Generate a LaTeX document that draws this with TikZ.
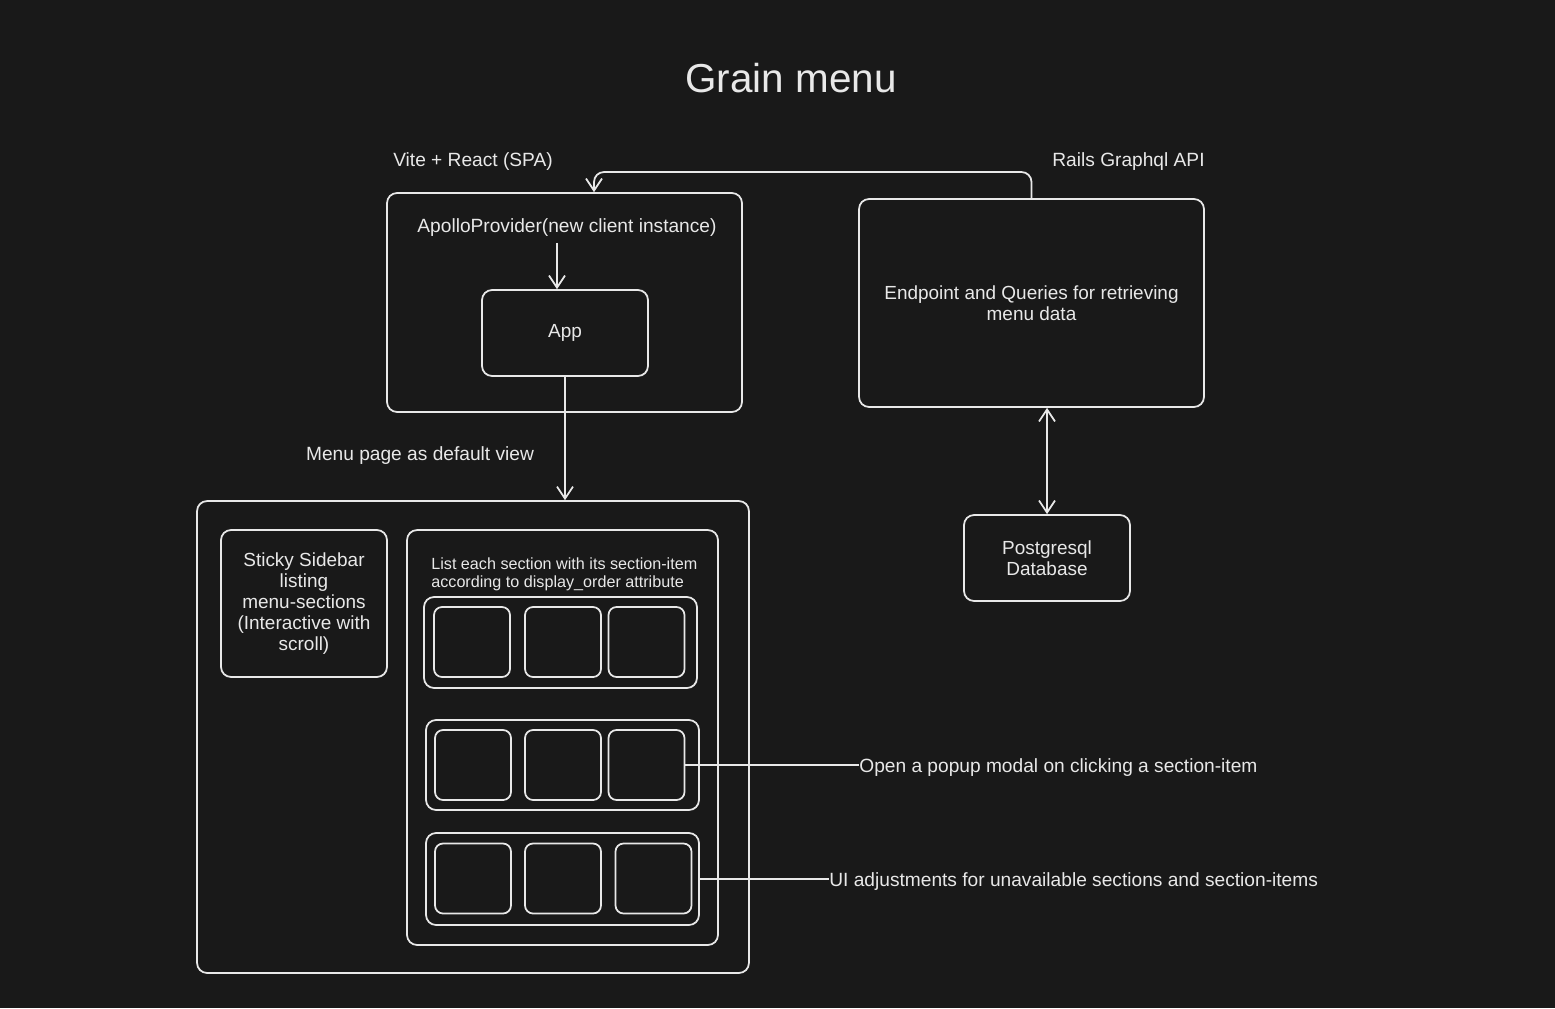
\documentclass[tikz,border=0pt]{standalone}
\usepackage{fontspec}
\setmainfont{Liberation Sans}
\usetikzlibrary{arrows.meta,positioning}
\definecolor{bgdark}{HTML}{191919}
\definecolor{chalk}{HTML}{E8E8E8}
\begin{document}
\begin{tikzpicture}[x=0.02cm,y=-0.02cm]
	% Styles for the nodes
	\tikzstyle{box} = [rectangle, rounded corners=0.2cm, inner sep=0pt, draw=chalk, line width=1pt, text=chalk, align=center, font=\fontsize{10.8}{11.9}\selectfont]
	\tikzstyle{item} = [box, rounded corners=0.16cm, minimum width=1.52cm, minimum height=1.4cm]
	\tikzstyle{row} = [box, minimum width=5.46cm, minimum height=1.82cm]
	\tikzstyle{heading} = [text=chalk, inner sep=0pt, font=\fontsize{23}{27}\selectfont]
	\tikzstyle{note} = [text=chalk, inner sep=0pt, yshift=-1.5pt, font=\fontsize{10.9}{11.9}\selectfont]
	\tikzstyle{arrow} = [draw=chalk, line width=1pt, -{Straight Barb[length=2.4mm,width=3.2mm]}]
	\tikzstyle{dblarrow} = [draw=chalk, line width=1pt, {Straight Barb[length=2.4mm,width=3.2mm]}-{Straight Barb[length=2.4mm,width=3.2mm]}]
	\tikzstyle{link} = [draw=chalk, line width=1pt]
	% Background
	\fill[bgdark] (0,0) rectangle (1555,1008);
	% Nodes
	\node (title) [heading] at (791,78) {Grain menu};
	\node (vite) [note] at (473,159) {Vite + React (SPA)};
	\node (rails) [note] at (1128.5,159) {Rails Graphql API};
	\node (apollo) [box, minimum width=7.1cm, minimum height=4.38cm] at (564.5,302.5) {};
	\node (apollotxt) [note] at (567,225) {ApolloProvider(new client instance)};
	\node (app) [box, minimum width=3.32cm, minimum height=1.72cm] at (565,333) {App};
	\node (endpoint) [box, minimum width=6.9cm, minimum height=4.16cm] at (1031.5,303) {Endpoint and Queries for retrieving\\menu data};
	\node (postgres) [box, minimum width=3.32cm, minimum height=1.72cm] at (1047,558) {Postgresql\\Database};
	\node (menupage) [note] at (420,453) {Menu page as default view};
	\node (main) [box, minimum width=11.04cm, minimum height=9.44cm] at (473,737) {};
	\node (sidebar) [box, minimum width=3.32cm, minimum height=2.94cm] at (304,603.5) {Sticky Sidebar\\listing\\menu-sections\\(Interactive with\\scroll)};
	\node (list) [box, minimum width=6.22cm, minimum height=8.3cm] at (562.5,737.5) {};
	\node (listtxt) [note, anchor=west, align=left, font=\fontsize{9.2}{10.2}\selectfont] at (431,572) {List each section with its section-item\\according to display\_order attribute};
	\node (row1) [row] at (560.5,642.5) {};
	\node (row2) [row, minimum height=1.8cm] at (562.5,765) {};
	\node (row3) [row, minimum height=1.84cm] at (562.5,879) {};
	\foreach \r/\y/\xa/\xc in {1/642/472/646.5, 2/765/473/646.5, 3/878.5/473/653.5} {
		\node (r\r c1) [item] at (\xa,\y) {};
		\node (r\r c2) [item] at (563,\y) {};
		\node (r\r c3) [item] at (\xc,\y) {};
	}
	\node (popup) [note, anchor=west] at (859,765) {Open a popup modal on clicking a section-item};
	\node (uitext) [note, anchor=west] at (829,879) {UI adjustments for unavailable sections and section-items};
	% Arrows
	\draw [arrow, rounded corners=0.2cm] (endpoint.north) |- (594,172) -- (594,0 |- apollo.north);
	\draw [arrow] (apollotxt.south -| 557,0) ++(0,6) -- (557,0 |- app.north);
	\draw [arrow] (app.south) -- (app.south |- main.north);
	\draw [dblarrow] (postgres.north |- endpoint.south) -- (postgres.north);
	\draw [link] (r2c3.east) -- (r2c3.east -| popup.west);
	\draw [link] (row3.east) -- (row3.east -| uitext.west);
\end{tikzpicture}
\end{document}
